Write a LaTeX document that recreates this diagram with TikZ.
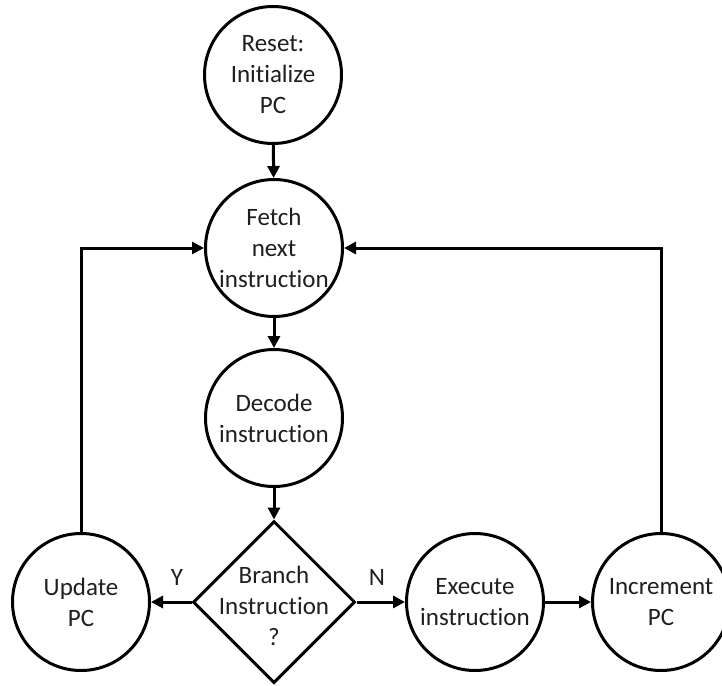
\documentclass[tikz,border=0pt]{standalone}
\usepackage{fontspec}
\setmainfont[Ligatures=NoCommon]{Carlito}
\usetikzlibrary{shapes.geometric,arrows.meta}
\begin{document}
\begin{tikzpicture}[x=1pt,y=-1pt,
  every node/.style={font=\fontsize{25}{31}\selectfont, text=black!88},
  stepcirc/.style={circle, draw=black, line width=3pt, minimum size=137pt, inner sep=0pt, align=center},
  decision/.style={diamond, draw=black, line width=3pt, minimum width=162pt, minimum height=162pt, inner sep=0pt},
  flow/.style={line width=3pt, draw=black, -{Triangle[length=12pt,width=12pt]}},
  lbl/.style={inner sep=0pt}]
\useasboundingbox (0,0) rectangle (722,685);
\node[stepcirc] (reset) at (273,75) {Reset:\\Initialize\\PC};
\node[stepcirc] (fetch) at (274,248) {Fetch\\next\\instruction};
\node[stepcirc] (decode) at (274,418) {Decode\\instruction};
\node[decision] (branch) at (274,602) {};
\node[align=center, inner sep=0pt] (branchtxt) at (274,606) {Branch\\Instruction\\?};
\node[stepcirc] (update) at (81,602) {Update\\PC};
\node[stepcirc] (execute) at (475,602) {Execute\\instruction};
\node[stepcirc] (increment) at (661,602) {Increment\\PC};
\node[lbl] (ylbl) at (177,577) {Y};
\node[lbl] (nlbl) at (377,577) {N};
\draw[flow] (reset) -- (fetch);
\draw[flow] (fetch) -- (decode);
\draw[flow] (decode) -- (branch);
\draw[flow] (branch.west) -- (update.east);
\draw[flow] (branch.east) -- (execute.west);
\draw[flow] (execute) -- (increment);
\draw[flow] (update.north) |- (fetch.west);
\draw[flow] (increment.north) |- (fetch.east);
\end{tikzpicture}
\end{document}
